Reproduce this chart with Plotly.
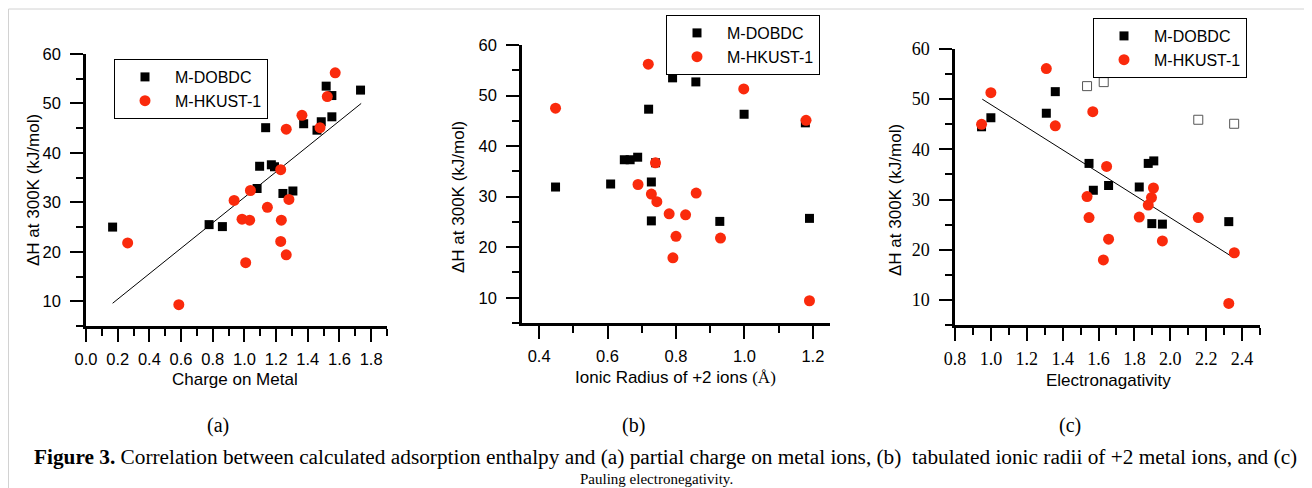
import plotly.graph_objects as go

# the page body has an 8 px margin, so the figure fills the rest of the 1312x488 window
OFF = 8
W, H = 1312 - OFF, 488 - OFF

# ---------------- data ----------------
# (a) Charge on metal
a_dobdc_x = [0.168, 0.777, 0.861, 1.080, 1.096, 1.134, 1.170, 1.190, 1.243, 1.306, 1.374, 1.458, 1.485, 1.516, 1.552, 1.552, 1.733]
a_dobdc_y = [25.0, 25.5, 25.1, 32.8, 37.3, 45.1, 37.6, 37.2, 31.8, 32.3, 45.9, 44.6, 46.3, 53.5, 51.6, 47.3, 52.7]
a_hkust_x = [0.263, 0.586, 0.935, 0.985, 1.033, 1.038, 1.008, 1.145, 1.229, 1.233, 1.229, 1.264, 1.281, 1.264, 1.363, 1.477, 1.523, 1.573]
a_hkust_y = [21.8, 9.3, 30.4, 26.6, 26.4, 32.4, 17.8, 29.0, 36.6, 26.4, 22.1, 19.4, 30.6, 44.8, 47.6, 45.1, 51.4, 56.2]
a_fit_x = [0.168, 1.737]
a_fit_y = [9.6, 50.0]

# (b) Ionic radius of +2 ions
b_dobdc_x = [0.448, 0.609, 0.649, 0.666, 0.688, 0.720, 0.728, 0.728, 0.790, 0.858, 0.928, 0.999, 1.178, 1.190, 0.740]
b_dobdc_y = [31.9, 32.5, 37.3, 37.3, 37.8, 47.3, 32.9, 25.2, 53.5, 52.7, 25.1, 46.3, 44.6, 25.7, 36.7]
b_hkust_x = [0.448, 0.719, 0.998, 1.180, 0.740, 0.689, 0.728, 0.744, 0.780, 0.828, 0.859, 0.800, 0.791, 0.930, 1.190]
b_hkust_y = [47.5, 56.2, 51.3, 45.1, 36.7, 32.4, 30.5, 29.0, 26.6, 26.4, 30.7, 22.15, 17.9, 21.8, 9.4]

# (c) Electronegativity
c_dobdc_x = [0.948, 1.000, 1.309, 1.359, 1.547, 1.571, 1.656, 1.827, 1.877, 1.908, 1.897, 1.956, 2.326]
c_dobdc_y = [44.5, 46.3, 47.2, 51.5, 37.2, 31.85, 32.8, 32.5, 37.2, 37.7, 25.2, 25.1, 25.6]
c_open_x = [1.536, 1.629, 2.156, 2.356]
c_open_y = [52.6, 53.4, 45.9, 45.1]
c_hkust_x = [0.948, 1.000, 1.309, 1.359, 1.568, 1.645, 1.536, 1.547, 1.627, 1.656, 1.827, 1.877, 1.895, 1.906, 1.956, 2.156, 2.326, 2.357]
c_hkust_y = [45.0, 51.3, 56.1, 44.7, 47.5, 36.6, 30.6, 26.4, 17.97, 22.1, 26.5, 28.9, 30.4, 32.3, 21.75, 26.4, 9.3, 19.4]
c_fit_x = [0.952, 2.354]
c_fit_y = [50.0, 18.4]

series_names = ["M-DOBDC", "M-HKUST-1"]
x_titles = ["Charge on Metal",
            "Ionic Radius of +2 ions <span style='font-family:Liberation Serif'>(Å)</span>",
            "Electronagativity"]
y_title = "ΔH at 300K (kJ/mol)"
panel_labels = ["(a)", "(b)", "(c)"]
caption1 = ("<b>Figure 3.</b> Correlation between calculated adsorption enthalpy and (a) partial charge on metal ions, "
            "(b)  tabulated ionic radii of +2 metal ions, and (c)")
caption2 = "Pauling electronegativity."

# ---------------- style ----------------
RED = "#fa2a0c"
SANS = "Liberation Sans, Arial, sans-serif"
SERIF = "Liberation Serif, Times New Roman, serif"

def px_x(v):
    return (v - OFF) / W

def px_y(v):
    return 1 - (v - OFF) / H

fig = go.Figure()

def add_panel(i, dx, dy, hx, hy, fx=None, fy=None, ox=None, oy=None):
    xa = "x" if i == 1 else f"x{i}"
    ya = "y" if i == 1 else f"y{i}"
    lg = "legend" if i == 1 else f"legend{i}"
    if fx is not None:
        fig.add_trace(go.Scatter(x=fx, y=fy, mode="lines", line=dict(color="black", width=1),
                                 xaxis=xa, yaxis=ya, showlegend=False, hoverinfo="skip"))
    fig.add_trace(go.Scatter(x=dx, y=dy, mode="markers", name=series_names[0],
                             marker=dict(symbol="square", size=9, color="black"),
                             xaxis=xa, yaxis=ya, legend=lg))
    if ox is not None:
        fig.add_trace(go.Scatter(x=ox, y=oy, mode="markers", showlegend=False,
                                 marker=dict(symbol="square-open", size=9, color="#555555",
                                             line=dict(width=1)),
                                 xaxis=xa, yaxis=ya))
    fig.add_trace(go.Scatter(x=hx, y=hy, mode="markers", name=series_names[1],
                             marker=dict(symbol="circle", size=11, color=RED),
                             xaxis=xa, yaxis=ya, legend=lg))

add_panel(1, a_dobdc_x, a_dobdc_y, a_hkust_x, a_hkust_y, a_fit_x, a_fit_y)
add_panel(2, b_dobdc_x, b_dobdc_y, b_hkust_x, b_hkust_y)
add_panel(3, c_dobdc_x, c_dobdc_y, c_hkust_x, c_hkust_y, c_fit_x, c_fit_y, c_open_x, c_open_y)

def xaxis(dom, rng, tick0, anchor, font):
    return dict(domain=dom, range=rng, anchor=anchor, showline=True, linecolor="black", linewidth=2.5,
                ticks="outside", ticklen=13, tickwidth=2, tickcolor="black", tick0=tick0, dtick=0.2,
                tickformat=".1f", showgrid=False, zeroline=False, tickfont=font, ticklabelstandoff=3,
                minor=dict(ticks="outside", ticklen=7, tickwidth=2, tickcolor="black",
                           tick0=tick0, dtick=0.1, showgrid=False),
                automargin=False, fixedrange=True)

def yaxis(dom, anchor, font):
    return dict(domain=dom, range=[5, 60], anchor=anchor, showline=True, linecolor="black", linewidth=2.5,
                ticks="outside", ticklen=13, tickwidth=2, tickcolor="black", tick0=10, dtick=10,
                showgrid=False, zeroline=False, tickfont=font, ticklabelstandoff=6,
                minor=dict(ticks="outside", ticklen=7, tickwidth=2, tickcolor="black",
                           tick0=5, dtick=5, showgrid=False),
                automargin=False, fixedrange=True)

sans_tick = dict(family=SANS, size=16.5, color="black")
serif_tick = dict(family=SERIF, size=18, color="black")

# pixel boxes (window pixels) of the three plot areas: (left, right, top, bottom)
boxes = [(86, 387, 54, 326), (522, 830, 45, 323), (955, 1260, 49, 325)]
xranges = [[0, 1.9], [0.35, 1.25], [0.8, 2.5]]
tick0s = [0, 0.4, 0.8]
fonts = [sans_tick, sans_tick, serif_tick]

layout = dict(width=W, height=H, margin=dict(l=0, r=0, t=0, b=0, pad=0, autoexpand=False),
              paper_bgcolor="white", plot_bgcolor="white", showlegend=True)
for i, (bx, rng, t0, fnt) in enumerate(zip(boxes, xranges, tick0s, fonts), start=1):
    l, r, t, b = bx
    sx = "" if i == 1 else str(i)
    layout[f"xaxis{sx}"] = xaxis([px_x(l), px_x(r)], rng, t0, f"y{sx}", fnt)
    layout[f"yaxis{sx}"] = yaxis([px_y(b), px_y(t)], f"x{sx}", fnt)

legend_pos = [(114, 59), (666, 15), (1093, 18)]
for i, (lx, ly) in enumerate(legend_pos, start=1):
    key = "legend" if i == 1 else f"legend{i}"
    layout[key] = dict(x=px_x(lx), y=px_y(ly), xanchor="left", yanchor="top",
                       bordercolor="black", borderwidth=1, bgcolor="white",
                       font=dict(family=SANS, size=16, color="black"),
                       itemwidth=50, tracegroupgap=0)

fig.update_layout(**layout)

ann = []
# axis titles
xt_pos = [(235, 379), (675, 377), (1108, 380)]
for txt, (x, y) in zip(x_titles, xt_pos):
    ann.append(dict(text=txt, x=px_x(x), y=px_y(y), xref="paper", yref="paper", showarrow=False,
                    xanchor="center", yanchor="middle", font=dict(family=SANS, size=17, color="black")))
yt_pos = [(33, 190), (458, 197), (895, 200)]
for (x, y) in yt_pos:
    ann.append(dict(text=y_title, x=px_x(x), y=px_y(y), xref="paper", yref="paper", showarrow=False,
                    textangle=-90, xanchor="center", yanchor="middle",
                    font=dict(family=SANS, size=17, color="black")))
# panel labels
for txt, x in zip(panel_labels, [218, 633, 1070]):
    ann.append(dict(text=txt, x=px_x(x), y=px_y(425), xref="paper", yref="paper", showarrow=False,
                    xanchor="center", yanchor="middle", font=dict(family=SERIF, size=20, color="black")))
ann.append(dict(text=caption1, x=px_x(665), y=px_y(457), xref="paper", yref="paper", showarrow=False,
                xanchor="center", yanchor="middle", font=dict(family=SERIF, size=21.3, color="black")))
ann.append(dict(text=caption2, x=px_x(656), y=px_y(479), xref="paper", yref="paper", showarrow=False,
                xanchor="center", yanchor="middle", font=dict(family=SERIF, size=15, color="black")))
fig.update_layout(annotations=ann)

# page frame lines
fig.update_layout(shapes=[
    dict(type="line", xref="paper", yref="paper", x0=px_x(8.5), x1=1, y0=px_y(9), y1=px_y(9),
         line=dict(color="#d2d2d2", width=1)),
    dict(type="line", xref="paper", yref="paper", x0=px_x(8.5), x1=px_x(8.5), y0=px_y(9), y1=0,
         line=dict(color="#d2d2d2", width=1)),
])

fig.write_html("out.html")
